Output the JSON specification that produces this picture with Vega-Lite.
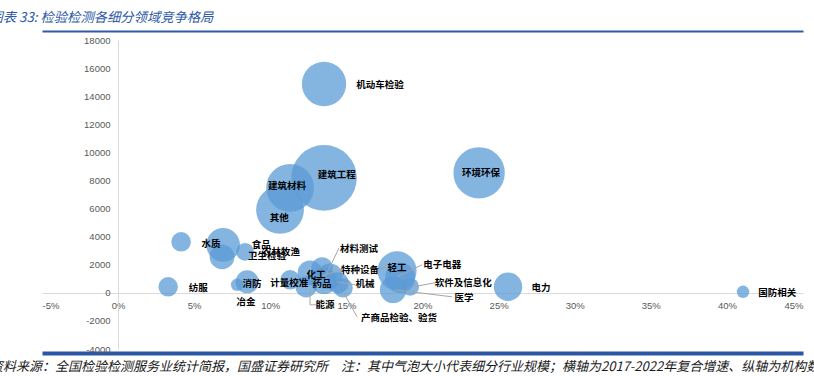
{
  "$schema": "https://vega.github.io/schema/vega-lite/v6.json",
  "autosize": {"type": "none"},
  "width": 761,
  "height": 309,
  "padding": {"left": 42, "top": 40, "right": 11, "bottom": 27},
  "background": "white",
  "config": {"view": {"stroke": null}},
  "title": {
    "text": "资料来源：全国检验检测服务业统计简报，国盛证券研究所　注：其中气泡大小代表细分行业规模；横轴为2017-2022年复合增速、纵轴为机构数量",
    "orient": "bottom",
    "anchor": "start",
    "frame": "group",
    "dx": -52,
    "offset": 7,
    "font": "Noto Sans CJK SC",
    "fontSize": 13,
    "fontStyle": "italic",
    "fontWeight": "normal",
    "color": "#1A1A1A"
  },
  "datasets": {
    "bubbles": [
      {"name": "机动车检验", "growth": 13.53, "count": 14870, "scale": 417},
      {"name": "建筑工程", "growth": 13.53, "count": 8185, "scale": 913},
      {"name": "环境环保", "growth": 23.72, "count": 8540, "scale": 561},
      {"name": "建筑材料", "growth": 11.30, "count": 7473, "scale": 486},
      {"name": "其他", "growth": 10.64, "count": 5907, "scale": 486},
      {"name": "水质", "growth": 4.14, "count": 3630, "scale": 81},
      {"name": "食品", "growth": 6.90, "count": 3416, "scale": 241},
      {"name": "卫生检验", "growth": 6.83, "count": 2562, "scale": 131},
      {"name": "农林牧渔", "growth": 8.34, "count": 2918, "scale": 67},
      {"name": "纺服", "growth": 3.29, "count": 427, "scale": 81},
      {"name": "消防", "growth": 8.48, "count": 783, "scale": 113},
      {"name": "冶金", "growth": 7.82, "count": 569, "scale": 33},
      {"name": "计量校准", "growth": 11.30, "count": 925, "scale": 81},
      {"name": "化工", "growth": 12.61, "count": 1423, "scale": 131},
      {"name": "药品", "growth": 13.53, "count": 854, "scale": 150},
      {"name": "材料测试", "growth": 13.40, "count": 1779, "scale": 96},
      {"name": "特种设备", "growth": 13.93, "count": 1210, "scale": 131},
      {"name": "机械", "growth": 14.45, "count": 712, "scale": 96},
      {"name": "能源", "growth": 12.35, "count": 427, "scale": 96},
      {"name": "产商品检验、验货", "growth": 14.78, "count": 356, "scale": 81},
      {"name": "轻工", "growth": 18.33, "count": 1566, "scale": 323},
      {"name": "电子电器", "growth": 18.53, "count": 1068, "scale": 193},
      {"name": "软件及信息化", "growth": 19.19, "count": 427, "scale": 67},
      {"name": "医学", "growth": 18.07, "count": 214, "scale": 150},
      {"name": "电力", "growth": 25.62, "count": 427, "scale": 171},
      {"name": "国防相关", "growth": 41.06, "count": 71, "scale": 33}
    ],
    "labels": [
      {"name": "机动车检验", "lx": 17.21, "ly": 14803},
      {"name": "建筑工程", "lx": 14.36, "ly": 8398},
      {"name": "环境环保", "lx": 23.85, "ly": 8540},
      {"name": "建筑材料", "lx": 11.10, "ly": 7615},
      {"name": "其他", "lx": 10.58, "ly": 5338},
      {"name": "水质", "lx": 6.11, "ly": 3487},
      {"name": "食品", "lx": 9.40, "ly": 3416},
      {"name": "卫生检验", "lx": 9.79, "ly": 2633},
      {"name": "农林牧渔", "lx": 10.71, "ly": 2918},
      {"name": "纺服", "lx": 5.26, "ly": 356},
      {"name": "消防", "lx": 8.80, "ly": 641},
      {"name": "冶金", "lx": 8.41, "ly": -641},
      {"name": "计量校准", "lx": 11.24, "ly": 712},
      {"name": "化工", "lx": 13.01, "ly": 1281},
      {"name": "药品", "lx": 13.40, "ly": 641},
      {"name": "材料测试", "lx": 15.83, "ly": 3131},
      {"name": "特种设备", "lx": 15.90, "ly": 1637},
      {"name": "机械", "lx": 16.23, "ly": 641},
      {"name": "能源", "lx": 13.60, "ly": -854},
      {"name": "产商品检验、验货", "lx": 18.46, "ly": -1779},
      {"name": "轻工", "lx": 18.33, "ly": 1779},
      {"name": "电子电器", "lx": 21.29, "ly": 1993},
      {"name": "软件及信息化", "lx": 22.67, "ly": 712},
      {"name": "医学", "lx": 22.73, "ly": -356},
      {"name": "电力", "lx": 27.79, "ly": 356},
      {"name": "国防相关", "lx": 43.30, "ly": 0}
    ],
    "leaders": [
      {"name": "材料测试", "x1": 14.52, "y1": 3203, "x2": 13.60, "y2": 1139},
      {"name": "特种设备", "x1": 14.72, "y1": 1708, "x2": 13.07, "y2": 1068},
      {"name": "机械", "x1": 15.57, "y1": 569, "x2": 14.39, "y2": 783},
      {"name": "能源", "x1": 12.61, "y1": 214, "x2": 12.61, "y2": -854},
      {"name": "能源", "x1": 12.61, "y1": -854, "x2": 13.01, "y2": -854},
      {"name": "产商品检验、验货", "x1": 15.70, "y1": -1708, "x2": 14.78, "y2": 71},
      {"name": "电子电器", "x1": 19.97, "y1": 1993, "x2": 18.33, "y2": 1139},
      {"name": "软件及信息化", "x1": 20.83, "y1": 712, "x2": 19.38, "y2": 427},
      {"name": "医学", "x1": 21.94, "y1": -285, "x2": 18.20, "y2": 214},
      {"name": "轻工", "x1": 17.74, "y1": 1779, "x2": 16.75, "y2": 1708}
    ]
  },
  "resolve": {"axis": {"x": "independent", "y": "independent"}},
  "layer": [
    {
      "data": {"name": "bubbles"},
      "mark": {"type": "circle", "color": "#5B9BD5", "opacity": 0.75, "strokeWidth": 0},
      "encoding": {
        "x": {
          "field": "growth", "type": "quantitative",
          "scale": {"domain": [-5, 45], "nice": false, "zero": false},
          "axis": {
            "values": [-5, 0, 5, 10, 15, 20, 25, 30, 35, 40, 45],
            "labelExpr": "datum.value + '%'",
            "orient": "bottom", "offset": -56,
            "grid": false, "ticks": false, "tickSize": 0,
            "domainColor": "#D9D9D9", "domainWidth": 1,
            "labelFont": "Liberation Sans", "labelFontSize": 9.5, "labelColor": "#595959",
            "labelPadding": 7, "title": null
          }
        },
        "y": {
          "field": "count", "type": "quantitative",
          "scale": {"domain": [-4000, 18000], "nice": false, "zero": false},
          "axis": {
            "values": [-4000, -2000, 0, 2000, 4000, 6000, 8000, 10000, 12000, 14000, 16000, 18000],
            "labelExpr": "'' + datum.value",
            "orient": "left", "offset": -76,
            "grid": false, "ticks": false, "tickSize": 0,
            "labelOverlap": false, "labelBound": false, "labelFlush": false,
            "domainColor": "#D9D9D9", "domainWidth": 1,
            "labelFont": "Liberation Sans", "labelFontSize": 9.5, "labelColor": "#595959",
            "labelPadding": 8, "title": null, "zindex": 1
          }
        },
        "size": {
          "field": "scale", "type": "quantitative",
          "scale": {"domain": [0, 1000], "range": [0, 4712]},
          "legend": null
        }
      }
    },
    {
      "data": {"name": "leaders"},
      "mark": {"type": "rule", "color": "#A6A6A6", "strokeWidth": 1},
      "encoding": {
        "x": {
          "field": "x1", "type": "quantitative",
          "scale": {"domain": [-5, 45], "nice": false, "zero": false},
          "axis": {
            "orient": "bottom", "offset": 4,
            "labels": false, "ticks": false, "grid": false, "domain": true,
            "domainColor": "#2A56A6", "domainWidth": 4, "title": null
          }
        },
        "x2": {"field": "x2"},
        "y": {
          "field": "y1", "type": "quantitative",
          "scale": {"domain": [-4000, 18000], "nice": false, "zero": false},
          "axis": null
        },
        "y2": {"field": "y2"}
      }
    },
    {
      "data": {"name": "labels"},
      "mark": {"type": "text", "font": "Noto Sans CJK SC", "fontSize": 9.5, "fontWeight": "bold", "color": "#000000", "align": "center", "baseline": "middle"},
      "encoding": {
        "x": {
          "field": "lx", "type": "quantitative",
          "scale": {"domain": [-5, 45], "nice": false, "zero": false},
          "axis": {
            "orient": "top", "offset": 9,
            "labels": false, "ticks": false, "grid": false,
            "domainColor": "#2E5AA8", "domainWidth": 2,
            "title": "图表 33:  检验检测各细分领域竞争格局",
            "titleAnchor": "start", "titleAlign": "left", "titleX": -53, "titlePadding": 7,
            "titleFont": "Noto Sans CJK SC", "titleFontSize": 13.3, "titleFontStyle": "italic",
            "titleFontWeight": "normal", "titleColor": "#2E5AA8"
          }
        },
        "y": {
          "field": "ly", "type": "quantitative",
          "scale": {"domain": [-4000, 18000], "nice": false, "zero": false},
          "axis": null
        },
        "text": {"field": "name"}
      }
    }
  ]
}
